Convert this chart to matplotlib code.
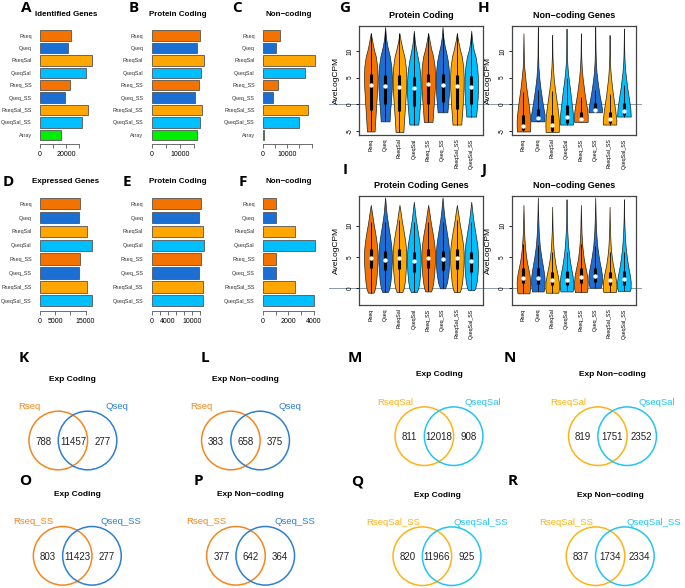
import numpy as np
import matplotlib
matplotlib.use("Agg")
import matplotlib.pyplot as plt
from matplotlib.patches import Circle

plt.rcParams["font.family"] = ["Liberation Sans", "DejaVu Sans"]

# ---------------- data ----------------
names9 = ["Rseq", "Qseq", "RseqSal", "QseqSal", "Rseq_SS", "Qseq_SS",
          "RseqSal_SS", "QseqSal_SS", "Array"]
names8 = names9[:8]

identified = [23900, 21400, 39500, 34700, 22600, 19400, 36400, 31700, 16300]
ident_coding = [16950, 16050, 18250, 17450, 16600, 15350, 17800, 16950, 15900]
ident_noncoding = [6950, 5450, 21300, 17300, 6050, 4100, 18600, 14800, 400]
expressed = [13286, 12767, 15399, 17029, 13245, 12706, 15357, 16959]
exp_coding = [12245, 11734, 12829, 12926, 12226, 11700, 12786, 12891]
exp_noncoding = [1041, 1033, 2570, 4103, 1019, 1006, 2571, 4068]

ticks_a = [0, 10000, 20000, 30000]
labels_a = ["0", "", "20000", ""]
ticks_b = [0, 5000, 10000, 15000]
labels_b = ["0", "", "10000", ""]
ticks_c = [0, 5000, 10000, 15000, 20000]
labels_c = ["0", "", "10000", "", ""]
ticks_d = [0, 5000, 10000, 15000]
labels_d = ["0", "5000", "", "15000"]
ticks_e = [0, 2000, 4000, 6000, 8000, 10000, 12000]
labels_e = ["0", "", "4000", "", "", "10000", ""]
ticks_f = [0, 1000, 2000, 3000, 4000]
labels_f = ["0", "", "2000", "", "4000"]

c_rseq, c_qseq, c_rsal, c_qsal, c_arr = "#F47300", "#1B6FD2", "#FFA600", "#00BFFF", "#00EE00"
colors9 = [c_rseq, c_qseq, c_rsal, c_qsal, c_rseq, c_qseq, c_rsal, c_qsal, c_arr]
colors8 = colors9[:8]

# violin profiles: (y values, half-widths)
g_y = [[-5.1, -3, 0, 3, 5, 7, 9, 10, 11, 12, 13.3],
       [-3.2, -1, 1, 3, 5, 7, 9, 10, 11, 12.5, 14.5],
       [-5.2, -3, 0, 3, 5, 7, 9, 10, 11, 12, 13.3],
       [-3.8, -2, 0, 2, 4, 6, 8, 10, 11, 12, 13.8],
       [-3.3, -1, 1, 3, 5, 7, 9, 10, 11, 12, 13.3],
       [-1.5, 0, 2, 4, 6, 8, 9, 10, 11, 12.5, 14.5],
       [-3.8, -2, 0, 3, 5, 7, 9, 10, 11, 12, 13.3],
       [-2.3, -1, 1, 3, 5, 7, 9, 10, 11, 12, 13.8]]
g_w = [[.23, .27, .33, .39, .41, .39, .30, .21, .14, .08, 0],
       [.31, .36, .42, .47, .48, .44, .33, .24, .15, .06, 0],
       [.24, .28, .35, .41, .42, .39, .30, .21, .14, .07, 0],
       [.30, .36, .42, .46, .46, .42, .32, .18, .11, .06, 0],
       [.26, .31, .36, .40, .41, .39, .30, .21, .14, .08, 0],
       [.35, .40, .46, .49, .47, .39, .32, .24, .15, .06, 0],
       [.27, .31, .36, .41, .42, .39, .30, .21, .14, .07, 0],
       [.33, .37, .43, .46, .45, .40, .29, .18, .11, .06, 0]]
g_med = [3.7, 3.4, 3.3, 3.0, 3.8, 3.6, 3.4, 3.2]
g_q1 = [-1.0, 0.0, -1.3, -0.3, 0.0, 0.4, -0.8, 0.0]
g_q3 = [5.7, 5.5, 5.5, 5.2, 5.7, 5.6, 5.5, 5.3]

h_y = [[-5.1, -4, -3, -2, -1, 0, 1, 2, 3, 4, 5, 7, 9, 13.3],
       [-3.2, -2, -1, 0, 1, 2, 3, 4, 5, 7, 9, 14.5],
       [-5.2, -4, -3, -2, -1, 0, 1, 2, 3, 4, 5, 7, 9, 13.0],
       [-3.8, -3, -2, -1, 0, 1, 2, 3, 4, 5, 6, 8, 10, 14.2],
       [-3.3, -2, -1, 0, 1, 2, 3, 4, 5, 7, 9, 13.3],
       [-1.5, -1, 0, 1, 2, 3, 4, 5, 6, 8, 10, 14.5],
       [-3.8, -3, -2, -1, 0, 1, 2, 3, 4, 5, 7, 9, 13.0],
       [-2.3, -1, 0, 1, 2, 3, 4, 5, 6, 8, 10, 14.2]]
h_w = [[.44, .46, .46, .43, .39, .35, .30, .25, .20, .16, .12, .05, .025, 0],
       [.43, .44, .38, .32, .27, .22, .17, .13, .09, .04, .02, 0],
       [.44, .46, .45, .42, .38, .33, .28, .23, .18, .14, .10, .05, .02, 0],
       [.42, .44, .42, .38, .34, .30, .26, .22, .17, .13, .09, .04, .02, 0],
       [.40, .40, .37, .32, .27, .22, .18, .14, .10, .05, .02, 0],
       [.42, .43, .38, .32, .26, .21, .16, .12, .08, .04, .02, 0],
       [.43, .44, .40, .36, .31, .26, .21, .17, .13, .09, .04, .02, 0],
       [.42, .40, .36, .31, .26, .21, .17, .13, .09, .04, .02, 0]]
h_med = [-4.0, -2.5, -3.9, -2.4, -2.7, -1.0, -2.8, -1.3]
h_q1 = [-4.9, -3.1, -5.0, -3.5, -3.2, -1.4, -3.6, -2.1]
h_q3 = [-2.0, -0.8, -2.0, -0.1, -1.4, 0.2, -1.4, 0.2]

i_y = [[-0.7, 0, 1, 2.5, 4, 5, 6, 7, 8, 9, 10, 11, 12, 13.3],
       [-0.6, 0, 1, 2.5, 4, 5, 6, 7, 8, 9, 10, 11, 12, 14.5],
       [-0.6, 0, 1, 2.5, 4, 5, 6, 7, 8, 9, 10, 11, 12, 13.3],
       [-0.6, 0, 1, 2.5, 4, 5, 6, 7, 8, 9, 10, 11, 12, 13.8],
       [-0.5, 0, 1, 2.5, 4, 5, 6, 7, 8, 9, 10, 11, 12, 13.3],
       [0.0, 0.5, 1, 2.5, 4, 5, 6, 7, 8, 9, 10, 11, 12, 14.5],
       [-0.6, 0, 1, 2.5, 4, 5, 6, 7, 8, 9, 10, 11, 12, 13.3],
       [-0.3, 0, 1, 2.5, 4, 5, 6, 7, 8, 9, 10, 11, 12, 13.8]]
i_w = [[.20, .30, .37, .43, .47, .48, .47, .43, .37, .30, .22, .15, .09, 0],
       [.20, .30, .38, .44, .48, .49, .47, .43, .37, .30, .23, .16, .10, 0],
       [.20, .29, .37, .43, .47, .48, .47, .43, .37, .30, .22, .15, .09, 0],
       [.20, .31, .39, .45, .48, .48, .46, .42, .35, .28, .21, .14, .09, 0],
       [.20, .28, .36, .43, .47, .48, .47, .43, .37, .30, .22, .15, .09, 0],
       [.18, .26, .33, .43, .48, .49, .47, .43, .37, .30, .23, .16, .10, 0],
       [.20, .29, .37, .43, .47, .48, .47, .43, .37, .30, .22, .15, .09, 0],
       [.20, .28, .38, .45, .48, .48, .46, .42, .35, .28, .21, .14, .09, 0]]
i_med = [4.9, 4.5, 4.8, 4.3, 4.9, 4.6, 4.8, 4.3]
i_q1 = [3.3, 2.9, 3.1, 2.6, 3.3, 2.9, 3.1, 2.6]
i_q3 = [6.2, 6.0, 6.2, 5.8, 6.2, 6.0, 6.2, 5.8]

j_y = [[-0.8, 0, 1, 2, 3, 4, 5, 6, 7, 9, 13.3],
       [-0.5, 0, 1, 2, 3, 4, 5, 6, 7, 9, 11, 14.5],
       [-0.7, 0, 1, 2, 3, 4, 5, 6, 7, 9, 13.0],
       [-0.5, 0, 1, 2, 3, 4, 5, 6, 7, 9, 11, 14.2],
       [-0.6, 0, 1, 2, 3, 4, 5, 6, 7, 9, 13.3],
       [0.1, 1, 2, 3, 4, 5, 6, 7, 9, 11, 14.5],
       [-0.6, 0, 1, 2, 3, 4, 5, 6, 7, 9, 13.0],
       [-0.4, 0, 1, 2, 3, 4, 5, 6, 7, 9, 11, 14.2]]
j_w = [[.40, .45, .46, .42, .34, .25, .18, .13, .09, .04, 0],
       [.38, .42, .45, .43, .37, .30, .23, .17, .12, .06, .03, 0],
       [.42, .46, .45, .38, .29, .21, .15, .10, .07, .03, 0],
       [.40, .44, .45, .40, .32, .25, .19, .14, .10, .05, .02, 0],
       [.40, .45, .46, .42, .34, .25, .18, .13, .09, .04, 0],
       [.36, .44, .44, .38, .30, .23, .17, .12, .06, .03, 0],
       [.42, .46, .45, .38, .29, .21, .15, .10, .07, .03, 0],
       [.40, .44, .45, .40, .32, .25, .19, .14, .10, .05, .02, 0]]
j_med = [1.7, 1.7, 1.3, 1.4, 1.8, 1.9, 1.3, 1.5]
j_q1 = [0.8, 0.7, 0.5, 0.6, 0.8, 1.0, 0.5, 0.6]
j_q3 = [3.3, 3.2, 2.6, 2.7, 3.3, 3.3, 2.6, 2.7]

# venn diagrams
venn_sets = [("Rseq", "Qseq"), ("Rseq", "Qseq"), ("RseqSal", "QseqSal"),
             ("RseqSal", "QseqSal"), ("Rseq_SS", "Qseq_SS"), ("Rseq_SS", "Qseq_SS"),
             ("RseqSal_SS", "QseqSal_SS"), ("RseqSal_SS", "QseqSal_SS")]
venn_counts = [(788, 11457, 277), (383, 658, 375), (811, 12018, 908), (819, 1751, 2352),
               (803, 11423, 277), (377, 642, 364), (820, 11966, 925), (837, 1734, 2334)]
venn_titles = ["Exp Coding", "Exp Non\u2212coding"] * 4
venn_letters = ["K", "L", "M", "N", "O", "P", "Q", "R"]

vc_r, vc_q, vc_rs, vc_qs = "#F5861F", "#2D7FD1", "#FDB316", "#22C4F4"
venn_colors = [(vc_r, vc_q), (vc_r, vc_q), (vc_rs, vc_qs), (vc_rs, vc_qs)] * 2

# ---------------- figure ----------------
W, H = 685, 588
fig = plt.figure(figsize=(W / 100, H / 100), dpi=100)


def ax_px(l, t, w, h):
    return fig.add_axes([l / W, 1 - (t + h) / H, w / W, h / H])


def text_px(x, y, s, **kw):
    fig.text(x / W, 1 - y / H, s, ha="center", va="center", **kw)


def letter(x, y, s):
    text_px(x, y, s, fontsize=11, fontweight="bold",
            family=["Open Sans", "DejaVu Sans"])


def bar_panel(left, top, height, title_y, vals, cols, ticks, tlabels, title):
    ax = ax_px(left, top, 56, height)
    n = len(vals)
    ypos = 0.7 + 1.2 * np.arange(n)
    ax.barh(ypos, vals, height=1, color=cols, edgecolor="#555555", linewidth=0.6)
    pad = 0.04 * (ypos[-1] + 0.5 - 0.2)
    ax.set_ylim(ypos[-1] + 0.5 + pad, 0.2 - pad)
    vmax = max(vals)
    ax.set_xlim(-0.04 * vmax, 1.04 * vmax)
    ax.set_yticks(ypos, names9[:n], fontsize=3.9, color="#333333")
    ax.tick_params(axis="y", length=0, pad=4.5)
    ax.set_xticks(ticks, tlabels, fontsize=5)
    ax.tick_params(axis="x", length=3, width=0.6, color="#555555", pad=2)
    for s in ["left", "right", "top"]:
        ax.spines[s].set_visible(False)
    ax.spines["bottom"].set_bounds(0, ticks[-1])
    ax.spines["bottom"].set_color("#555555")
    ax.spines["bottom"].set_linewidth(0.6)
    ax.patch.set_alpha(0)
    text_px(left + 28, title_y, title, fontsize=5.8, fontweight="bold")


bar_panel(37.9, 26, 118.4, 14.7, identified, colors9, ticks_a, labels_a, "Identified Genes")
bar_panel(149.6, 26, 118.4, 14.7, ident_coding, colors9, ticks_b, labels_b, "Protein Coding")
bar_panel(260.9, 26, 118.4, 14.7, ident_noncoding, colors9, ticks_c, labels_c, "Non\u2212coding")
bar_panel(37.9, 193.6, 117.2, 181.7, expressed, colors8, ticks_d, labels_d, "Expressed Genes")
bar_panel(149.6, 193.6, 117.2, 181.7, exp_coding, colors8, ticks_e, labels_e, "Protein Coding")
bar_panel(260.9, 193.6, 117.2, 181.7, exp_noncoding, colors8, ticks_f, labels_f, "Non\u2212coding")


def violin_panel(left, top, ylim, yticks, ys, ws, med, q1, q3, title, line_span):
    w, h = 124, 109.3
    ax = ax_px(left, top, w, h)
    pos = np.arange(1, 9)
    stats = []
    for yy, ww, m in zip(ys, ws, med):
        stats.append(dict(coords=np.array(yy), vals=np.array(ww), mean=m, median=m,
                          min=yy[0], max=yy[-1]))
    parts = ax.violin(stats, positions=pos, widths=0.95, showmeans=False,
                      showextrema=False, showmedians=False)
    for body, c in zip(parts["bodies"], colors8):
        body.set_facecolor(c)
        body.set_edgecolor("#222222")
        body.set_linewidth(0.5)
        body.set_alpha(1)
    lo = [max(yy[0], a - 1.5 * (b - a)) for yy, a, b in zip(ys, q1, q3)]
    hi = [min(yy[-1], b + 1.5 * (b - a)) for yy, a, b in zip(ys, q1, q3)]
    ax.vlines(pos, lo, hi, color="black", lw=0.6, zorder=3)
    ax.vlines(pos, q1, q3, color="black", lw=2.2, zorder=3)
    ax.scatter(pos, med, s=10, color="white", zorder=4, linewidths=0)
    ax.axhline(0, line_span[0], line_span[1], color="#8C9BAB", lw=0.7,
               zorder=0.8, clip_on=False)
    ax.set_xlim(0.18, 8.82)
    ax.set_ylim(*ylim)
    ax.set_xticks(pos, names8, rotation=90, fontsize=3.8)
    ax.tick_params(axis="x", length=0, pad=2.5)
    ax.set_yticks(yticks, [str(v) for v in yticks], fontsize=4.7)
    for lbl in ax.get_yticklabels():
        lbl.set_rotation(90)
        lbl.set_va("center")
    ax.tick_params(axis="y", length=2.5, width=0.6, pad=1.5)
    for s in ax.spines.values():
        s.set_color("#444444")
        s.set_linewidth(0.9)
    text_px(left + w / 2, top - 9.7, title, fontsize=6.5, fontweight="bold")
    text_px(left - 23, top + h / 2, "AveLogCPM", rotation=90, fontsize=6)


violin_panel(359, 25.7, (-5.76, 14.74), [-5, 0, 5, 10], g_y, g_w, g_med, g_q1, g_q3,
             "Protein Coding", (-0.24, 1.24))
violin_panel(511.7, 25.7, (-5.76, 14.74), [-5, 0, 5, 10], h_y, h_w, h_med, h_q1, h_q3,
             "Non\u2212coding Genes", (0, 1.04))
violin_panel(359, 195.7, (-2.66, 14.77), [0, 5, 10], i_y, i_w, i_med, i_q1, i_q3,
             "Protein Coding Genes", (-0.24, 1.24))
violin_panel(511.7, 195.7, (-2.66, 14.77), [0, 5, 10], j_y, j_w, j_med, j_q1, j_q3,
             "Non\u2212coding Genes", (0, 1.04))

# venn panels
venn_centers = [(72.9, 440.5), (245.5, 440.5), (439, 436.2), (612.5, 436.2),
                (77.3, 555.8), (250.6, 555.8), (437, 556.2), (610.2, 556.2)]
venn_title_y = [379.3, 379.3, 374.3, 374.3, 495, 495, 495.7, 495.7]
venn_letter_xy = [(24, 358), (205, 358), (355, 358), (510, 358),
                  (25, 481), (198, 481), (357, 481), (513, 481)]
unit = 29.3
for k in range(8):
    cx, cy = venn_centers[k]
    ax = ax_px(cx - 2.3 * unit, cy - 1.4 * unit, 4.6 * unit, 2.8 * unit)
    ax.set_xlim(-2.3, 2.3)
    ax.set_ylim(-1.4, 1.4)
    ax.axis("off")
    ca, cb = venn_colors[k]
    ax.add_patch(Circle((-0.5, 0), 1, fill=False, ec=ca, lw=1.1))
    ax.add_patch(Circle((0.5, 0), 1, fill=False, ec=cb, lw=1.1))
    na, nb = venn_sets[k]
    ax.text(-1.5, 1.16, na, color=ca, fontsize=6.8, ha="center", va="center", clip_on=False)
    ax.text(1.5, 1.16, nb, color=cb, fontsize=6.8, ha="center", va="center", clip_on=False)
    for xx, v in zip([-1.0, 0.0, 1.0], venn_counts[k]):
        ax.text(xx, -0.04, str(v), fontsize=7, ha="center", va="center", color="#222222")
    text_px(cx, venn_title_y[k], venn_titles[k], fontsize=6, fontweight="bold")
    letter(*venn_letter_xy[k], venn_letters[k])

for (x, y), s in zip([(26, 7.5), (134, 7.5), (237, 7.5), (8, 181.5), (127, 181.5),
                      (243, 181.5), (345, 8), (483.5, 8.5), (345, 169.5), (484, 170)],
                     "ABCDEFGHIJ"):
    letter(x, y, s)

fig.savefig("out.png", dpi=100)
